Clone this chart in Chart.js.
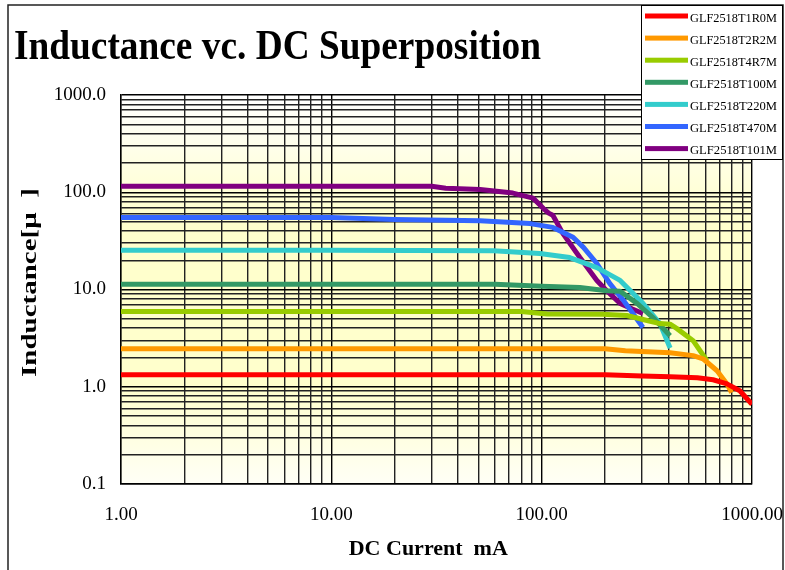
<!DOCTYPE html>
<html>
<head>
<meta charset="utf-8">
<script src="https://cdn.jsdelivr.net/npm/chart.js@4.4.1/dist/chart.umd.min.js"></script>
<style>
    html, body { margin: 0; padding: 0; background: #fff; }
    #wrap { width: 785px; height: 570px; }
</style>
</head>
<body>
<div id="wrap"><canvas id="chart" width="785" height="570"></canvas></div>
<script>
// Axis decades (labels shown only on these)
const xDecades = [1, 10, 100, 1000];
const yDecades = [0.1, 1, 10, 100, 1000];

const seriesNames = ["GLF2518T1R0M", "GLF2518T2R2M", "GLF2518T4R7M", "GLF2518T100M",
    "GLF2518T220M", "GLF2518T470M", "GLF2518T101M"];
const seriesColors = ["#FF0000", "#FF9900", "#99CC00", "#339966", "#33CCCC", "#3366FF", "#800080"];

// DC current (mA) / inductance (uH)
const t1r0Current = [1, 10, 100, 200, 300, 408, 550, 653, 760, 875, 1000];
const t1r0Induct  = [1.33, 1.33, 1.33, 1.33, 1.29, 1.27, 1.24, 1.18, 1.07, 0.91, 0.66];

const t2r2Current = [1, 10, 100, 200, 250, 300, 408, 525, 585, 682, 760, 800];
const t2r2Induct  = [2.46, 2.46, 2.46, 2.46, 2.35, 2.3, 2.24, 2.09, 1.94, 1.46, 1.07, 0.87];

const t4r7Current = [1, 10, 80, 106, 195, 254, 317, 365, 408, 440, 525, 611];
const t4r7Induct  = [5.93, 5.93, 5.93, 5.6, 5.55, 5.4, 4.8, 4.46, 4.4, 3.96, 2.98, 1.85];

const t100Current = [1, 10, 60, 100, 152, 204, 236, 284, 338, 408];
const t100Induct  = [11.3, 11.3, 11.3, 10.8, 10.5, 9.7, 9.6, 7.2, 5.15, 3.35];

const t220Current = [1, 10, 59, 98, 136, 183, 236, 303, 365, 408];
const t220Induct  = [25.3, 25.3, 25.0, 23.5, 21.3, 16.8, 12.4, 7.2, 4.46, 2.5];

const t470Current = [1, 10, 20, 51, 88, 113, 141, 158, 183, 211, 245, 303];
const t470Induct  = [55, 55, 52.6, 51, 47.6, 43.5, 34.4, 27.1, 18.5, 11.5, 7.7, 4.06];

const t101Current = [1, 30, 35, 51, 73, 91, 102, 108, 113, 126, 152, 183, 205, 236, 270, 303];
const t101Induct  = [115, 115, 110, 107, 98, 87, 68, 61, 58, 37.8, 21.3, 12.4, 9.6, 7.2, 6.3, 5.66];

const currents = [t1r0Current, t2r2Current, t4r7Current, t100Current, t220Current, t470Current, t101Current];
const inducts = [t1r0Induct, t2r2Induct, t4r7Induct, t100Induct, t220Induct, t470Induct, t101Induct];

// gridlines at 1..9 of every decade
function gridValues(decades) {
    const vals = [];
    for (let i = 0; i < decades.length - 1; i++) {
        for (let k = 1; k <= 9; k++) vals.push(k * decades[i]);
    }
    vals.push(decades[decades.length - 1]);
    return vals;
}
const xGrid = gridValues(xDecades);
const yGrid = gridValues(yDecades);

function isDecade(list, v) {
    return list.some(d => Math.abs(d - v) < d * 1e-6);
}

const datasets = seriesNames.map((name, i) => ({
    label: name,
    data: currents[i].map((x, j) => ({ x: x, y: inducts[i][j] })),
    borderColor: seriesColors[i],
    backgroundColor: seriesColors[i],
    borderWidth: 5,
    pointRadius: 0,
    fill: false,
    tension: 0,
    borderJoinStyle: "round"
}));

// background, frame, title, y title and legend
const decorPlugin = {
    id: "decor",
    beforeDraw(chart) {
        const { ctx, chartArea: a } = chart;
        ctx.save();
        ctx.fillStyle = "#ffffff";
        ctx.fillRect(0, 0, chart.width, chart.height);
        const g = ctx.createLinearGradient(0, a.top, 0, a.bottom);
        g.addColorStop(0, "#ffffff");
        g.addColorStop(0.32, "#ffffcc");
        g.addColorStop(0.75, "#ffffcc");
        g.addColorStop(1, "#fffff6");
        ctx.fillStyle = g;
        ctx.fillRect(a.left, a.top, a.right - a.left, a.bottom - a.top);
        ctx.restore();
    },
    afterDraw(chart) {
        const { ctx } = chart;
        ctx.save();

        // outer frame
        ctx.strokeStyle = "#222";
        ctx.lineWidth = 1.5;
        ctx.beginPath();
        ctx.moveTo(8, 572);
        ctx.lineTo(8, 5);
        ctx.lineTo(783, 5);
        ctx.lineTo(783, 572);
        ctx.stroke();

        // title
        ctx.fillStyle = "#000";
        ctx.font = "bold 42px 'Liberation Serif', 'Times New Roman', serif";
        ctx.textAlign = "left";
        ctx.textBaseline = "alphabetic";
        ctx.fillText("Inductance vc. DC Superposition", 14, 59, 527);

        // y axis title, squeezed like the source
        ctx.save();
        ctx.translate(36, 377);
        ctx.rotate(-Math.PI / 2);
        ctx.scale(1, 0.7);
        ctx.font = "bold 29px 'Liberation Serif', 'Times New Roman', serif";
        ctx.fillText("Inductance[\u03bc  ]", 0, 0);
        ctx.restore();

        // legend
        ctx.fillStyle = "#fff";
        ctx.fillRect(641, 5, 142, 155);
        ctx.strokeStyle = "#000";
        ctx.lineWidth = 1;
        ctx.strokeRect(641.5, 5.5, 141, 154);
        ctx.font = "13.5px 'Liberation Serif', 'Times New Roman', serif";
        seriesNames.forEach((name, i) => {
            const y = 16 + i * 22.1;
            ctx.fillStyle = seriesColors[i];
            ctx.fillRect(645, y - 2.5, 43, 5);
            ctx.fillStyle = "#000";
            ctx.fillText(name, 690, y + 5.5, 87);
        });

        ctx.restore();
    }
};

const tickFont = { family: "'Liberation Serif', 'Times New Roman', serif", size: 19 };

new Chart(document.getElementById("chart"), {
    type: "line",
    data: { datasets: datasets },
    plugins: [decorPlugin],
    options: {
        responsive: false,
        animation: false,
        layout: { padding: { left: 8, right: 33, top: 95, bottom: 0 } },
        plugins: {
            legend: { display: false },
            tooltip: { enabled: false },
            title: { display: false }
        },
        scales: {
            x: {
                type: "logarithmic",
                min: 1,
                max: 1000,
                afterBuildTicks: (scale) => { scale.ticks = xGrid.map(v => ({ value: v })); },
                afterFit: (scale) => {
                    scale.height = 86;
                    scale.paddingLeft = 0;
                    scale.paddingRight = 0;
                },
                grid: {
                    color: (c) => (c.tick && isDecade(xDecades, c.tick.value)) ? "#000" : "#222",
                    lineWidth: 1.4,
                    drawTicks: false
                },
                border: { display: true, color: "#000", width: 1.4 },
                ticks: {
                    autoSkip: false,
                    maxRotation: 0,
                    padding: 20,
                    color: "#000",
                    font: tickFont,
                    callback: (v) => isDecade(xDecades, v) ? Number(v).toFixed(2) : ""
                },
                title: {
                    display: true,
                    text: "DC Current  mA   ",
                    color: "#000",
                    font: { family: "'Liberation Serif', 'Times New Roman', serif", size: 22, weight: "bold" },
                    padding: { top: 0, bottom: 7 }
                }
            },
            y: {
                type: "logarithmic",
                min: 0.1,
                max: 1000,
                afterBuildTicks: (scale) => { scale.ticks = yGrid.map(v => ({ value: v })); },
                afterFit: (scale) => {
                    scale.width = 113;
                    scale.paddingTop = 0;
                    scale.paddingBottom = 0;
                },
                grid: {
                    color: (c) => (c.tick && isDecade(yDecades, c.tick.value)) ? "#000" : "#222",
                    lineWidth: 1.4,
                    drawTicks: false
                },
                border: { display: true, color: "#000", width: 1.4 },
                ticks: {
                    autoSkip: false,
                    padding: 15,
                    color: "#000",
                    font: tickFont,
                    callback: (v) => isDecade(yDecades, v) ? Number(v).toFixed(1) : ""
                }
            }
        }
    }
});
</script>
</body>
</html>
